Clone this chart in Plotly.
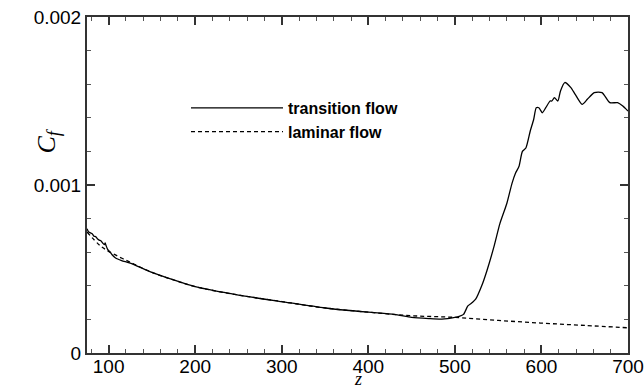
import plotly.graph_objects as go

# laminar flow skin friction
lam_z = [75, 90, 100, 125, 150, 175, 200, 250, 300, 350, 400, 450, 500, 550, 600, 650, 700]
lam_cf = [0.00072, 0.00064, 0.000605, 0.00054, 0.00048, 0.000435, 0.000395, 0.000345, 0.000306,
          0.000268, 0.000243, 0.000222, 0.000212, 0.000194, 0.000178, 0.000164, 0.00015]

# transition flow skin friction
tr_z = [75, 77, 79, 81, 83, 85, 87, 89, 91, 93, 95, 96, 97, 99, 101, 104, 108, 115, 125, 150, 175,
        200, 250, 300, 350, 400, 430, 450, 470, 485, 500, 505, 510, 515, 520, 524, 531, 537, 545,
        552, 560, 566, 570, 574, 578, 582, 587, 591, 594, 597, 601, 605, 610, 612, 615, 619, 622,
        627, 634, 639, 647, 653, 661, 670, 679, 688, 694, 700]
tr_cf = [0.00074, 0.00072, 0.000715, 0.00071, 0.000695, 0.000693, 0.00068, 0.000672, 0.000668,
         0.000655, 0.000645, 0.000655, 0.00064, 0.000615, 0.000605, 0.000585, 0.000565, 0.00055,
         0.000535, 0.00048, 0.000435, 0.000395, 0.000345, 0.000306, 0.000268, 0.000243, 0.00023,
         0.000212, 0.000205, 0.000202, 0.000212, 0.000218, 0.00023, 0.00028, 0.0003, 0.00032,
         0.0004, 0.00049, 0.00063, 0.00077, 0.00089, 0.00101, 0.00107, 0.00111, 0.0012, 0.00122,
         0.00132, 0.00139, 0.00146, 0.00146, 0.00143, 0.00146, 0.0015, 0.0015, 0.00152, 0.0015,
         0.00156, 0.00161, 0.00158, 0.00154, 0.00148, 0.00151, 0.00155, 0.00155, 0.00149, 0.00149,
         0.00147, 0.00144]

series_names = ["transition flow", "laminar flow"]

fig = go.Figure()
fig.add_trace(go.Scatter(x=tr_z, y=tr_cf, mode="lines", name=series_names[0],
                         line=dict(color="black", width=1.3, shape="spline", smoothing=0.6)))
fig.add_trace(go.Scatter(x=lam_z, y=lam_cf, mode="lines", name=series_names[1],
                         line=dict(color="black", width=1.3, dash="4px,3px", shape="spline")))

axis_common = dict(
    showgrid=False, zeroline=False, showline=True, linecolor="#333", linewidth=2,
    mirror="ticks", ticks="inside", ticklen=8, tickwidth=1.5, tickcolor="#333",
    automargin=False,
    tickfont=dict(family="Liberation Sans, Arial", size=19, color="black"),
)

fig.update_xaxes(range=[75, 700], dtick=100, tick0=0, ticklabelstandoff=-5,
                 minor=dict(dtick=20, ticks="inside", ticklen=4, tickcolor="#555", tickwidth=1),
                 **axis_common)
fig.update_yaxes(range=[0, 0.002], dtick=0.001, tick0=0,
                 minor=dict(dtick=0.0002, ticks="inside", ticklen=4, tickcolor="#555", tickwidth=1),
                 **axis_common)

fig.add_annotation(text="<i>C<sub>f</sub></i>", xref="paper", yref="paper", x=-0.105, y=0.63,
                   textangle=-90, showarrow=False,
                   font=dict(family="Liberation Serif", size=26, color="black"))
fig.add_annotation(text="<i>z</i>", xref="paper", yref="paper", x=0.5, y=-0.078,
                   showarrow=False, yanchor="middle", borderpad=0,
                   font=dict(family="Liberation Serif", size=18, color="black"))

fig.update_layout(
    width=644, height=389,
    margin=dict(l=87, r=16, t=17, b=36),
    plot_bgcolor="white", paper_bgcolor="white",
    showlegend=True,
    legend=dict(x=0.183, y=0.78, xanchor="left", yanchor="top", itemwidth=92,
                bgcolor="rgba(0,0,0,0)", tracegroupgap=0,
                font=dict(family="Liberation Sans, Arial", size=16, color="black", weight="bold")),
)

fig.write_html("out.html")
